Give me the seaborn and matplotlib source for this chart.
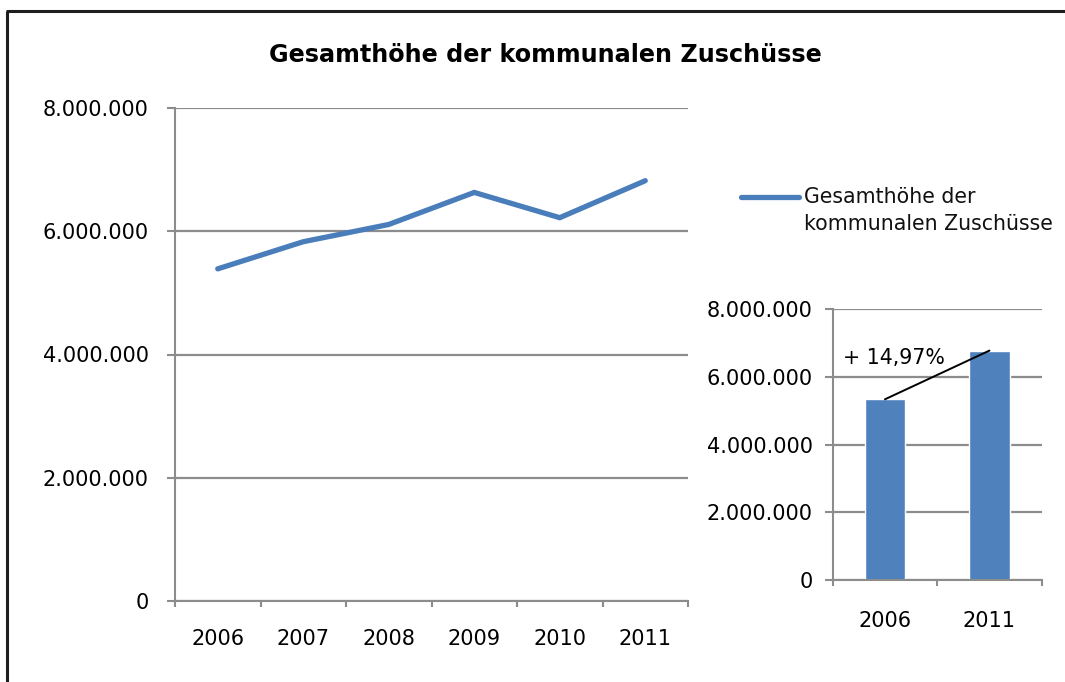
import matplotlib
matplotlib.use("Agg")
import matplotlib.pyplot as plt
from matplotlib.lines import Line2D
from matplotlib.ticker import FuncFormatter, FixedLocator
import seaborn as sns
import pandas as pd

# Data
years = ["2006", "2007", "2008", "2009", "2010", "2011"]
zuschuesse = [5390000, 5830000, 6110000, 6630000, 6220000, 6820000]
compare_years = ["2006", "2011"]
compare_values = [5340000, 6780000]
change_label = "+ 14,97%"
series_name = "Gesamthöhe der kommunalen Zuschüsse"
title_text = "Gesamthöhe der kommunalen Zuschüsse"
y_ticks = [0, 2000000, 4000000, 6000000, 8000000]

sns.set_theme(style="white")
plt.rcParams["font.family"] = ["DejaVu Sans"]

W, H = 1065, 682
fig = plt.figure(figsize=(W / 100, H / 100), dpi=100)
fig.patch.set_facecolor("white")

BLUE_LINE = "#4A7EBB"
BLUE_BAR = "#4F81BD"
GRID = "#8C8C8C"
FS = 15
FS_TEXT = 14.8


def px_rect(x0, y0, x1, y1):
    """Axes rectangle from pixel corners (top-left origin)."""
    return [x0 / W, 1 - y1 / H, (x1 - x0) / W, (y1 - y0) / H]


def de_format(v, _pos=None):
    return f"{int(round(v)):,}".replace(",", ".")


def style_axes(ax, ncat, ylab_pad, xlab_pad):
    ax.set_facecolor("white")
    for s in ["top", "right"]:
        ax.spines[s].set_visible(False)
    for s in ["left", "bottom"]:
        ax.spines[s].set_color(GRID)
        ax.spines[s].set_linewidth(1.5)
    ax.set_ylim(0, 8000000)
    ax.yaxis.set_major_locator(FixedLocator(y_ticks))
    ax.yaxis.set_major_formatter(FuncFormatter(de_format))
    ax.grid(axis="y", color=GRID, linewidth=1.6)
    ax.grid(axis="x", visible=False)
    ax.set_axisbelow(True)
    ax.tick_params(axis="y", which="major", left=True, length=5.5, width=1.5,
                   color=GRID, pad=ylab_pad, labelsize=FS, labelcolor="black")
    ax.set_xlim(-0.5, ncat - 0.5)
    ax.set_xticks(range(ncat))
    ax.set_xticks([i - 0.5 for i in range(ncat + 1)], minor=True)
    ax.tick_params(axis="x", which="major", bottom=True, length=0, pad=xlab_pad,
                   labelsize=FS, labelcolor="black")
    ax.tick_params(axis="x", which="minor", bottom=True, length=4.5, width=1.5,
                   color=GRID, direction="out")
    ax.set_xlabel("")
    ax.set_ylabel("")


# Main line chart
ax = fig.add_axes(px_rect(175, 108, 688, 601))
df = pd.DataFrame({"Jahr": years, "Wert": zuschuesse})
sns.lineplot(data=df, x="Jahr", y="Wert", ax=ax, color=BLUE_LINE,
             linewidth=3.8, sort=False, legend=False)
for ln in ax.lines:
    ln.set_solid_capstyle("round")
    ln.set_solid_joinstyle("miter")
style_axes(ax, len(years), ylab_pad=13.5, xlab_pad=20.5)

# Inset bar chart comparing first and last year
ax2 = fig.add_axes(px_rect(832.7, 309.3, 1041.7, 580))
df2 = pd.DataFrame({"Jahr": compare_years, "Wert": compare_values})
sns.barplot(data=df2, x="Jahr", y="Wert", ax=ax2, color=BLUE_BAR,
            width=0.39, saturation=1)
style_axes(ax2, len(compare_years), ylab_pad=9, xlab_pad=22.5)
ax2.plot([0, 1], compare_values, color="black", linewidth=1.4, zorder=5)
ax2.text(-0.4, 6560000, change_label, fontsize=FS_TEXT, ha="left", va="center",
         color="black", zorder=6)

# Title
fig.text(545 / W, 1 - 55 / H, title_text, ha="center", va="center",
         fontsize=17.2, fontweight="bold", color="black")

# Legend
fig.add_artist(Line2D([741 / W, 799 / W], [1 - 197 / H, 1 - 197 / H],
                      color=BLUE_LINE, linewidth=3.8, solid_capstyle="round"))
fig.text(804 / W, 1 - 197 / H, "Gesamthöhe der", fontsize=FS_TEXT,
         ha="left", va="center", color="#111111")
fig.text(804 / W, 1 - 224 / H, "kommunalen Zuschüsse", fontsize=FS_TEXT,
         ha="left", va="center", color="#111111")

# Outer frame (top and left edges)
fig.add_artist(Line2D([6 / W, 1.0], [1 - 11 / H, 1 - 11 / H],
                      color="#1E1E1E", linewidth=2.2, solid_capstyle="butt"))
fig.add_artist(Line2D([7 / W, 7 / W], [0, 1 - 11 / H],
                      color="#1E1E1E", linewidth=2.2, solid_capstyle="butt"))

fig.savefig("out.png", dpi=100, facecolor="white")
